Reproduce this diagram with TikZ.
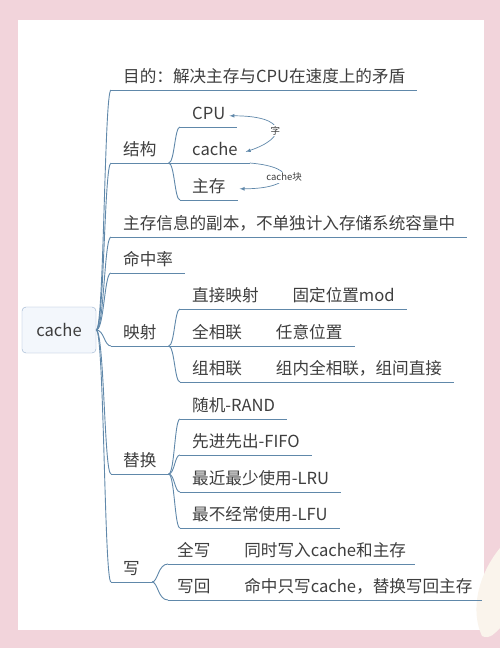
\documentclass[tikz,border=0pt]{standalone}
\usepackage{fontspec}
\setmainfont{Noto Sans CJK SC}
\usepackage{tikz}
\usetikzlibrary{arrows,positioning}

\definecolor{bgpink}{RGB}{242,212,219}
\definecolor{linkblue}{RGB}{96,136,170}
\definecolor{rootfill}{RGB}{243,247,252}
\definecolor{rootline}{RGB}{150,175,205}
\definecolor{inkgray}{RGB}{62,62,62}
\definecolor{petal}{RGB}{250,244,236}

\begin{document}
\begin{tikzpicture}[
        x=1pt, y=-1pt,
        topic/.style={
            anchor=south west,
            inner xsep=12pt,
            inner ysep=6pt,
            text height=0.85em,
            text depth=0.15em,
            text=inkgray,
            font=\fontsize{16.6}{19}\selectfont
        },
        root/.style={
            rectangle,
            draw=rootline,
            fill=rootfill,
            rounded corners=4pt,
            minimum width=74pt,
            minimum height=46pt,
            text=inkgray,
            font=\fontsize{16.6}{19}\selectfont
        },
        branch/.style={draw=linkblue, line width=0.9pt},
        curvy/.style={
            to path={.. controls ([xshift=#1]\tikztostart) and ([xshift=#1]\tikztostart |- \tikztotarget) .. (\tikztotarget)}
        },
        curvy/.default=8pt,
        relation/.style={draw=linkblue, line width=0.7pt},
        lbl/.style={fill=white, inner sep=1pt, text=inkgray, font=\fontsize{9.5}{11}\selectfont}
    ]
        \useasboundingbox (0,0) rectangle (500,648);
        % Paper
        \fill[bgpink] (0,0) rectangle (500,648);
        \fill[white] (18,20) rectangle (484,630);
        \fill[petal] (500,548) .. controls (478,575) and (470,610) .. (482,636) .. controls (490,640) and (496,632) .. (500,628) -- cycle;

        % Root node
        \node[root] (root) at (59,330) {cache};

        % First level topics
        \node[topic] (aim) at (111,90) {目的：解决主存与CPU在速度上的矛盾};
        \node[topic] (struct) at (111,163) {结构};
        \node[topic] (copy) at (111,237) {主存信息的副本，不单独计入存储系统容量中};
        \node[topic] (hit) at (111,273) {命中率};
        \node[topic] (map) at (111,346) {映射};
        \node[topic] (repl) at (111,474) {替换};
        \node[topic] (wr) at (111,582) {写};

        % Second level topics
        \node[topic] (cpu) at (180,127) {CPU};
        \node[topic] (cacheL) at (180,163) {cache};
        \node[topic] (mem) at (180,200) {主存};

        \node[topic] (direct) at (180,309) {直接映射\hspace{34pt}固定位置mod};
        \node[topic] (full) at (180,346) {全相联\hspace{34pt}任意位置};
        \node[topic] (group) at (180,382) {组相联\hspace{34pt}组内全相联，组间直接};

        \node[topic] (rand) at (180,419) {随机-RAND};
        \node[topic] (fifo) at (180,455) {先进先出-FIFO};
        \node[topic] (lru) at (180,492) {最近最少使用-LRU};
        \node[topic] (lfu) at (180,528) {最不经常使用-LFU};

        \node[topic, inner xsep=9pt] (through) at (168,564) {全写\hspace{34pt}同时写入cache和主存};
        \node[topic, inner xsep=9pt] (back) at (168,600) {写回\hspace{34pt}命中只写cache，替换写回主存};

        % Underlines
        \foreach \t in {aim,struct,copy,hit,map,repl,wr,cpu,cacheL,mem,direct,full,group,rand,fifo,lru,lfu,through,back}
            \draw[branch] (\t.south west) -- (\t.south east);

        % Branch lines
        \foreach \t in {aim,struct,copy,hit,map,repl,wr}
            \draw[branch] (root.east) to[curvy] (\t.south west);
        \foreach \t in {cpu,cacheL,mem}
            \draw[branch] (struct.south east) to[curvy=6pt] (\t.south west);
        \foreach \t in {direct,full,group}
            \draw[branch] (map.south east) to[curvy=6pt] (\t.south west);
        \foreach \t in {rand,fifo,lru,lfu}
            \draw[branch] (repl.south east) to[curvy=6pt] (\t.south west);
        \foreach \t in {through,back}
            \draw[branch] (wr.south east) to[curvy=6pt] (\t.south west);

        % Relations
        \draw[relation, latex-latex] ([xshift=-8pt]cpu.east) .. controls +(58,0) and +(42,-14) .. ([xshift=-4pt]cacheL.east) node[pos=0.55, lbl] {字};
        \draw[relation, -latex] (cacheL.south east) .. controls +(50,4) and +(55,0) .. ([xshift=2pt]mem.east) node[midway, lbl] {cache块};
    \end{tikzpicture}
\end{document}
